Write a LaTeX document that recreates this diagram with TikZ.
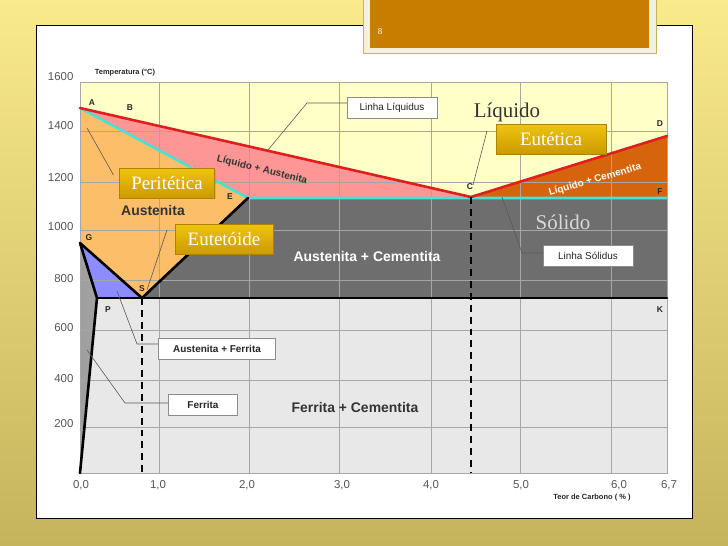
\documentclass[tikz,border=0pt]{standalone}
\usepackage{fontspec}
\setmainfont{Liberation Serif}
\setsansfont{Liberation Sans}
\usetikzlibrary{positioning,shadows}

\definecolor{SlideTop}{RGB}{249,234,140}
\definecolor{SlideBottom}{RGB}{198,180,92}
\definecolor{TitleBrown}{RGB}{200,125,0}
\definecolor{TitleFrame}{RGB}{244,240,222}
\definecolor{LiqYellow}{RGB}{255,255,200}
\definecolor{LiqPink}{RGB}{255,150,150}
\definecolor{AustOrange}{RGB}{253,190,105}
\definecolor{FerrBlue}{RGB}{140,140,255}
\definecolor{FerrGray}{RGB}{160,160,160}
\definecolor{CemDark}{RGB}{110,110,110}
\definecolor{CemLight}{RGB}{232,232,232}
\definecolor{LiqCem}{RGB}{214,100,12}
\definecolor{LiqRed}{RGB}{225,30,30}
\definecolor{SolCyan}{RGB}{70,225,215}
\definecolor{GoldTop}{RGB}{238,196,16}
\definecolor{GoldBottom}{RGB}{204,154,0}
\definecolor{TickGray}{RGB}{85,85,85}

\tikzset{
  gridline/.style={draw=black!35, line width=0.5pt},
  phaseline/.style={line width=2.6pt, line cap=round, line join=round},
  dashline/.style={line width=2.4pt, dash pattern=on 7pt off 5pt},
  pointlabel/.style={font=\sffamily\bfseries\fontsize{8.5}{9}\selectfont, text=black!85},
  ticklabel/.style={font=\sffamily\fontsize{11.5}{12}\selectfont, text=TickGray},
  fieldlabel/.style={font=\sffamily\bfseries\fontsize{14}{16}\selectfont},
  slantlabel/.style={font=\sffamily\bfseries\fontsize{10}{12}\selectfont, inner sep=0pt},
  phasename/.style={font=\rmfamily\fontsize{21}{24}\selectfont},
  calloutbox/.style={draw=black!45, fill=white, line width=0.6pt, minimum height=21, inner xsep=5pt, font=\sffamily\fontsize{10}{12}\selectfont, text=black!85},
  goldbox/.style={top color=GoldTop, bottom color=GoldBottom, draw=GoldBottom!85!black, line width=0.4pt, text=white, font=\rmfamily\fontsize{19}{21}\selectfont, minimum height=30, inner xsep=9pt, drop shadow={opacity=0.25, shadow xshift=1.5pt, shadow yshift=-1.5pt}},
  leader/.style={draw=black!65, line width=0.6pt},
}

\begin{document}
\begin{tikzpicture}[x=1bp, y=-1bp]
  \useasboundingbox (0,0) rectangle (728,546);

  % slide
  \shade[top color=SlideTop, bottom color=SlideBottom] (0,0) rectangle (728,546);
  \draw[black, line width=1pt, fill=white] (36,26) rectangle (692,518);
  \draw[TitleFrame, fill=TitleFrame] (363,-3) rectangle (656,53);
  \draw[SlideBottom, line width=0.5pt] (363,-3) -- (363,53) -- (656,53) -- (656,-3);
  \fill[TitleBrown] (370,-3) rectangle (649,48);
  \node[font=\rmfamily\fontsize{9}{10}\selectfont, text=white] (SlideNumber) at (380,32) {8};

  % points of the diagram
  \coordinate (A) at (80,108);
  \coordinate (C) at (471,197);
  \coordinate (D) at (667,136);
  \coordinate (E) at (248,198);
  \coordinate (F) at (667,198);
  \coordinate (G) at (80,243);
  \coordinate (S) at (142,298);
  \coordinate (P) at (97,298);
  \coordinate (K) at (667,298);
  \coordinate (O) at (80,473);
  \coordinate (Q) at (667,473);

  % fields
  \fill[LiqYellow] (80,82) rectangle (Q);
  \fill[LiqPink] (A) -- (C) -- (E) -- cycle;
  \fill[LiqCem] (C) -- (D) -- (F) -- cycle;
  \fill[AustOrange] (A) -- (E) -- (S) -- (G) -- cycle;
  \fill[CemDark] (E) -- (F) -- (K) -- (S) -- cycle;
  \fill[FerrBlue] (G) -- (S) -- (P) -- cycle;
  \fill[FerrGray] (G) -- (P) -- (O) -- cycle;
  \fill[CemLight] (P) -- (K) -- (Q) -- (O) -- cycle;

  % grid
  \foreach \gx in {159,249,339,431,520,611}
    \draw[gridline] (\gx,82) -- (\gx,473);
  \foreach \gy in {131,182,230,280,330,380,427}
    \draw[gridline] (80,\gy) -- (667,\gy);
  \draw[gridline] (80,82) rectangle (Q);

  % lines
  \draw[SolCyan, phaseline] (A) -- (E) -- (F);
  \draw[LiqRed, phaseline] (A) -- (C) -- (D);
  \draw[black, phaseline] (E) -- (S) -- (G) -- (P) -- (O);
  \draw[black, phaseline] (P) -- (K);
  \draw[dashline] (S) -- (S |- O);
  \draw[dashline] (C) -- (C |- O);

  % axes
  \foreach \lab/\py in {1600/77,1400/126,1200/178,1000/227,800/279,600/328,400/379,200/424}
    \node[ticklabel, anchor=east] at (77,\py) {\lab};
  \foreach \lab/\px in {{0,0}/81,{1,0}/158,{2,0}/247,{3,0}/342,{4,0}/431,{5,0}/521,{6,0}/619,{6,7}/669}
    \node[ticklabel] at (\px,485) {\lab};
  \node[font=\sffamily\bfseries\fontsize{7.5}{8}\selectfont, text=black!85] (TempTitle) at (125,73) {Temperatura (°C)};
  \node[font=\sffamily\bfseries\fontsize{7.5}{8}\selectfont, text=black!85] (CarbonTitle) at (592,498) {Teor de Carbono ( \% )};

  % point letters
  \node[pointlabel] (LabA) at (92,103) {A};
  \node[pointlabel] (LabB) at (130,108) {B};
  \node[pointlabel] (LabC) at (470,187) {C};
  \node[pointlabel] (LabD) at (660,124) {D};
  \node[pointlabel] (LabE) at (230,197) {E};
  \node[pointlabel] (LabF) at (660,192) {F};
  \node[pointlabel] (LabG) at (89,238) {G};
  \node[pointlabel] (LabS) at (142,289) {S};
  \node[pointlabel] (LabP) at (108,310) {P};
  \node[pointlabel] (LabK) at (660,310) {K};

  % field names
  \node[fieldlabel, text=black!80] (Austenita) at (153,211) {Austenita};
  \node[fieldlabel, text=white] (AustCem) at (367,257) {Austenita + Cementita};
  \node[fieldlabel, text=black!80] (FerrCem) at (355,408) {Ferrita + Cementita};
  \node[slantlabel, text=black!80, rotate=-14] (LiqAust) at (262,170) {Líquido + Austenita};
  \node[slantlabel, text=white!95!yellow, rotate=16] (LiqCementita) at (595,180) {Líquido + Cementita};
  \node[phasename, text=black!80] (Liquido) at (507,112) {Líquido};
  \node[phasename, text=black!15] (Solido) at (563,222) {Sólido};

  % callouts
  \node[calloutbox, minimum width=90] (LinhaLiquidus) at (392,108) {Linha Líquidus};
  \coordinate (LiquidusKnee) at (307,103);
  \coordinate (LiquidusTip) at (268,150);
  \draw[leader] (LinhaLiquidus.west |- LiquidusKnee) -- (LiquidusKnee) -- (LiquidusTip);

  \node[calloutbox, minimum width=90] (LinhaSolidus) at (588,256) {Linha Sólidus};
  \coordinate (SolidusKnee) at (522,253);
  \coordinate (SolidusTip) at (502,197);
  \draw[leader] (LinhaSolidus.west |- SolidusKnee) -- (SolidusKnee) -- (SolidusTip);

  \node[calloutbox, minimum width=118, font=\sffamily\bfseries\fontsize{10}{12}\selectfont] (AustFerr) at (217,349) {Austenita + Ferrita};
  \coordinate (AustFerrKnee) at (137,344);
  \coordinate (AustFerrTip) at (117,291);
  \draw[leader] (AustFerr.west |- AustFerrKnee) -- (AustFerrKnee) -- (AustFerrTip);

  \node[calloutbox, minimum width=69, font=\sffamily\bfseries\fontsize{10}{12}\selectfont] (Ferrita) at (203,405) {Ferrita};
  \coordinate (FerritaKnee) at (125,403);
  \coordinate (FerritaTip) at (87,350);
  \draw[leader] (Ferrita.west |- FerritaKnee) -- (FerritaKnee) -- (FerritaTip);

  % transformations
  \node[goldbox, minimum width=95] (Peritetica) at (167,183) {Peritética};
  \coordinate (PeriteticaTip) at (87,128);
  \draw[leader] ([shift={(-6,-8)}]Peritetica.west) -- (PeriteticaTip);

  \node[goldbox, minimum width=98] (Eutetoide) at (224,239) {Eutetóide};
  \coordinate (EutetoideTip) at (147,290);
  \draw[leader] ([shift={(-8,6)}]Eutetoide.north west) -- (EutetoideTip);

  \node[goldbox, minimum width=110] (Eutetica) at (551,139) {Eutética};
  \coordinate (EuteticaTip) at (473,185);
  \draw[leader] ([shift={(-9,7)}]Eutetica.north west) -- (EuteticaTip);
\end{tikzpicture}
\end{document}
